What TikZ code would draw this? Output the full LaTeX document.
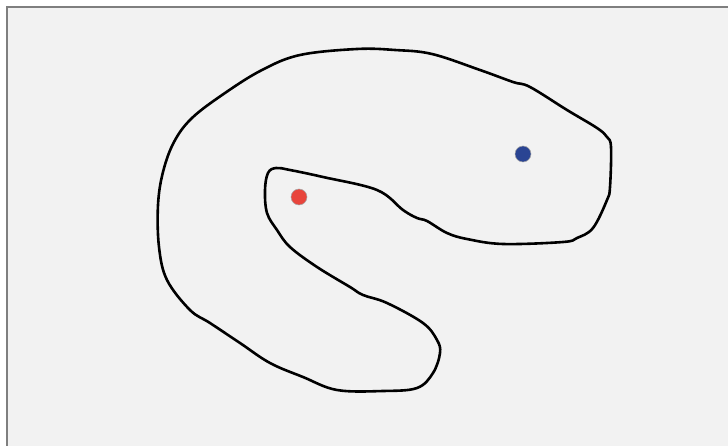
\documentclass[tikz,border=0pt]{standalone}
\definecolor{bgfill}{HTML}{F2F2F2}
\definecolor{framegray}{HTML}{7F7F7F}
\definecolor{dotred}{HTML}{E8453C}
\definecolor{dotblue}{HTML}{2A4493}
\begin{document}
\begin{tikzpicture}[x=1pt,y=-1pt,
  blob/.style={line width=2.6pt, line join=round, black},
  dot/.style={circle, inner sep=0pt, minimum size=16pt, draw=black!35, line width=0.5pt}]
\clip (0,0) rectangle (728,446);
\fill[white] (0,0) rectangle (728,446);
\filldraw[fill=bgfill, draw=framegray, line width=2.2pt] (7,7) rectangle (740,460);
\draw[blob] plot[smooth cycle, tension=0.6] coordinates {
 (357,49) (300,55) (262,70) (225,93) (192,118) (174,142) (163,172)
 (158,205)
 (159,247) (167,280) (190,310) (210,323) (240,343) (270,363) (303,377) (337,390)
 (383,391) (417,388) (433,373) (440,353) (437,340) (423,323) (387,303)
 (363,295) (350,287) (317,267) (290,247) (277,230) (267,213) (265,190)
 (268,173) (276,168) (290,170) (323,177) (377,190) (403,210) (417,218)
 (427,221) (447,233) (467,239) (503,244) (563,242) (577,238) (593,228)
 (607,200) (610,187) (611,147) (607,137) (597,128) (567,110) (530,87)
 (513,82) (480,70) (432,54) (395,50)};
\node[dot, fill=dotred] (red) at (299,197) {};
\node[dot, fill=dotblue] (blue) at (523,154) {};
\end{tikzpicture}
\end{document}
